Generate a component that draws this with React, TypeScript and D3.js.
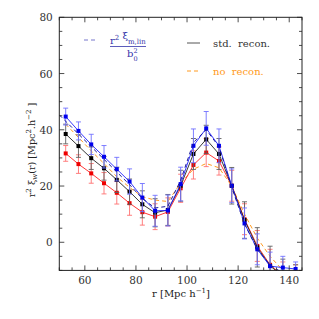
import * as d3 from 'd3'

// separations (Mpc/h) at bin centres
const rBins = [52.5, 57.5, 62.5, 67.5, 72.5, 77.5, 82.5, 87.5, 92.5, 97.5, 102.5, 107.5, 112.5, 117.5, 122.5, 127.5, 132.5, 137.5, 142.5]

const blueVals = [44.7, 39.6, 34.8, 30.4, 26.0, 21.6, 15.9, 11.2, 11.3, 20.7, 34.3, 40.5, 34.3, 20.1, 6.7, -2.5, -8.5, -9, -9.5]
const blueErr = [3, 3.2, 3.6, 4, 4.2, 4.5, 5, 5.5, 5.5, 6, 6, 6, 6, 6, 5.5, 5.5, 5, 4, 2.5]

const stdVals = [38.5, 34.2, 29.9, 26.3, 22.2, 18.0, 13.5, 10.5, 11.5, 20.1, 31.4, 36.6, 31.4, 20.1, 7.9, -1.8, -8.4, -12, -13]
const stdErr = [3.5, 4, 4, 4.2, 4.5, 4.5, 4.8, 5, 5.5, 5.5, 5.5, 5, 5.5, 6.5, 6.5, 7, 7, 6, 5]

const redVals = [31.6, 27.8, 24.5, 21.0, 17.6, 13.9, 10.7, 9.1, 10.8, 19.2, 27.5, 31.9, 28.9, 20.1, 8.2, -1.3, -8, -12, -13]
const redErr = [2.8, 3.3, 3.5, 3.8, 4, 4.3, 4.6, 4.6, 5, 5, 5, 5, 5, 5.5, 5.5, 5.5, 5.5, 5, 5]

const noReconVals = [42, 37.3, 32.5, 28, 23.3, 19.5, 16.2, 15, 14.5, 21, 26, 28, 26.5, 20, 10, 1.5, -5, -10, -14]
// model curve starts at the left edge (r = 50)
const modelR = [50, 57.5, 62.5, 67.5, 72.5, 77.5, 82.5, 87.5, 92.5, 97.5, 102.5, 107.5, 112.5, 117.5, 122.5, 127.5, 132.5, 137.5, 142.5]
const modelVals = [45.3, 38.5, 34, 29.5, 25, 20.5, 15.5, 12.2, 12.8, 22, 35.5, 40, 34, 19.5, 6.5, -2.5, -8, -11, -13]

const xTicks = [60, 80, 100, 120, 140]
const yTicks = [0, 20, 40, 60, 80]

const W = 319
const H = 319
const M = { left: 59.3, right: 302, top: 17.3, bottom: 270.4 }
const FONT = 'DejaVu Serif'

export default function App() {
  const x = d3.scaleLinear().domain([50, 145]).range([M.left, M.right])
  const y = d3.scaleLinear().domain([-10, 80]).range([M.bottom, M.top])

  const line = d3
    .line<number>()
    .x((_, i) => x(rBins[i]))
    .y((d) => y(d))
  const modelLine = d3
    .line<number>()
    .x((_, i) => x(modelR[i]))
    .y((d) => y(d))

  const minorX = d3.range(50, 146, 5)
  const minorY = d3.range(-10, 81, 5)

  const series = [
    { vals: redVals, err: redErr, line: '#ff2020', bar: '#ff7070', pt: '#ee0000' },
    { vals: stdVals, err: stdErr, line: '#202020', bar: '#606060', pt: '#000000' },
    { vals: blueVals, err: blueErr, line: '#2020ff', bar: '#7070ff', pt: '#0000ee' },
  ]

  return (
    <svg width={W} height={H} style={{ position: 'absolute', left: 0, top: 0, background: '#fff' }}>
      <defs>
        <clipPath id="plot">
          <rect x={M.left} y={M.top} width={M.right - M.left} height={M.bottom - M.top} />
        </clipPath>
      </defs>

      <g clipPath="url(#plot)">
        <path d={line(noReconVals) || ''} fill="none" stroke="#ff9a20" strokeWidth={1} strokeDasharray="4,3" />
        {series.map((s, si) => (
          <g key={si}>
            <path d={line(s.vals) || ''} fill="none" stroke={s.line} strokeWidth={0.9} />
            {s.vals.map((v, i) => {
              const cx = x(rBins[i])
              return (
                <g key={i}>
                  <line x1={cx} x2={cx} y1={y(v - s.err[i])} y2={y(v + s.err[i])} stroke={s.bar} strokeWidth={0.9} />
                  <line x1={cx - 2.5} x2={cx + 2.5} y1={y(v - s.err[i])} y2={y(v - s.err[i])} stroke={s.bar} strokeWidth={0.9} />
                  <line x1={cx - 2.5} x2={cx + 2.5} y1={y(v + s.err[i])} y2={y(v + s.err[i])} stroke={s.bar} strokeWidth={0.9} />
                  <rect x={cx - 2} y={y(v) - 2} width={4} height={4} fill={s.pt} />
                </g>
              )
            })}
          </g>
        ))}
        <path d={modelLine(modelVals) || ''} fill="none" stroke="#1a1a99" strokeWidth={1} strokeDasharray="4,3" />
      </g>

      {/* frame */}
      <rect x={M.left} y={M.top} width={M.right - M.left} height={M.bottom - M.top} fill="none" stroke="#222" strokeWidth={1} />

      {/* ticks, inward on all sides */}
      {minorX.map((t) => {
        const len = t % 20 === 0 ? 5 : 3
        return (
          <g key={'x' + t} stroke="#222" strokeWidth={0.8}>
            <line x1={x(t)} x2={x(t)} y1={M.bottom} y2={M.bottom - len} />
            <line x1={x(t)} x2={x(t)} y1={M.top} y2={M.top + len} />
          </g>
        )
      })}
      {minorY.map((t) => {
        const len = t % 20 === 0 ? 5 : 3
        return (
          <g key={'y' + t} stroke="#222" strokeWidth={0.8}>
            <line x1={M.left} x2={M.left + len} y1={y(t)} y2={y(t)} />
            <line x1={M.right} x2={M.right - len} y1={y(t)} y2={y(t)} />
          </g>
        )
      })}

      {xTicks.map((t) => (
        <text key={'xl' + t} x={x(t)} y={M.bottom + 13.5} textAnchor="middle" fontFamily={FONT} fontSize={10.5} fill="#333">
          {t}
        </text>
      ))}
      {yTicks.map((t) => (
        <text key={'yl' + t} x={M.left - 6.5} y={y(t) + 4} textAnchor="end" fontFamily={FONT} fontSize={10.5} fill="#333">
          {t}
        </text>
      ))}

      {/* axis titles */}
      <text x={181} y={297} textAnchor="middle" fontFamily={FONT} fontSize={10} fill="#222">
        r  [Mpc h<tspan dy={-4} fontSize={7}>−1</tspan><tspan dy={4}>]</tspan>
      </text>
      <text transform="translate(35,150) rotate(-90)" textAnchor="middle" fontFamily={FONT} fontSize={9.6} fill="#222">
        r<tspan dy={-4} fontSize={7}>2</tspan>
        <tspan dy={4}> ξ</tspan>
        <tspan dy={2} fontSize={7}>w</tspan>
        <tspan dy={-2}>(r) [Mpc</tspan>
        <tspan dy={-4} fontSize={7}>2</tspan>
        <tspan dy={4}>.h</tspan>
        <tspan dy={-4} fontSize={7}>−2</tspan>
        <tspan dy={4}> ]</tspan>
      </text>

      {/* legend */}
      <line x1={84} x2={97} y1={40} y2={40} stroke="#7777cc" strokeWidth={1} strokeDasharray="4,3" />
      <text x={110} y={44} fontFamily={FONT} fontSize={10} fill="#3333aa">
        r<tspan dy={-4} fontSize={7}>2</tspan>
        <tspan dy={-1}> ξ</tspan>
        <tspan dy={5} fontSize={7}>m,lin</tspan>
      </text>
      <line x1={110} x2={146} y1={46.5} y2={46.5} stroke="#3333aa" strokeWidth={0.8} />
      <text x={127} y={57} fontFamily={FONT} fontSize={10} fill="#3333aa">
        b
      </text>
      <text x={133.5} y={53} fontFamily={FONT} fontSize={6.5} fill="#3333aa">
        2
      </text>
      <text x={133.5} y={60.5} fontFamily={FONT} fontSize={6.5} fill="#3333aa">
        0
      </text>

      <line x1={187} x2={200} y1={43} y2={43} stroke="#555" strokeWidth={1} />
      <text x={213} y={46.5} fontFamily={FONT} fontSize={10} fill="#333" style={{ whiteSpace: 'pre' }}>
        std.  recon.
      </text>
      <line x1={187} x2={200} y1={71} y2={71} stroke="#ff9a20" strokeWidth={1} strokeDasharray="4,3" />
      <text x={213} y={74.5} fontFamily={FONT} fontSize={10} fill="#ff9a20" style={{ whiteSpace: 'pre' }}>
        no  recon.
      </text>
    </svg>
  )
}
